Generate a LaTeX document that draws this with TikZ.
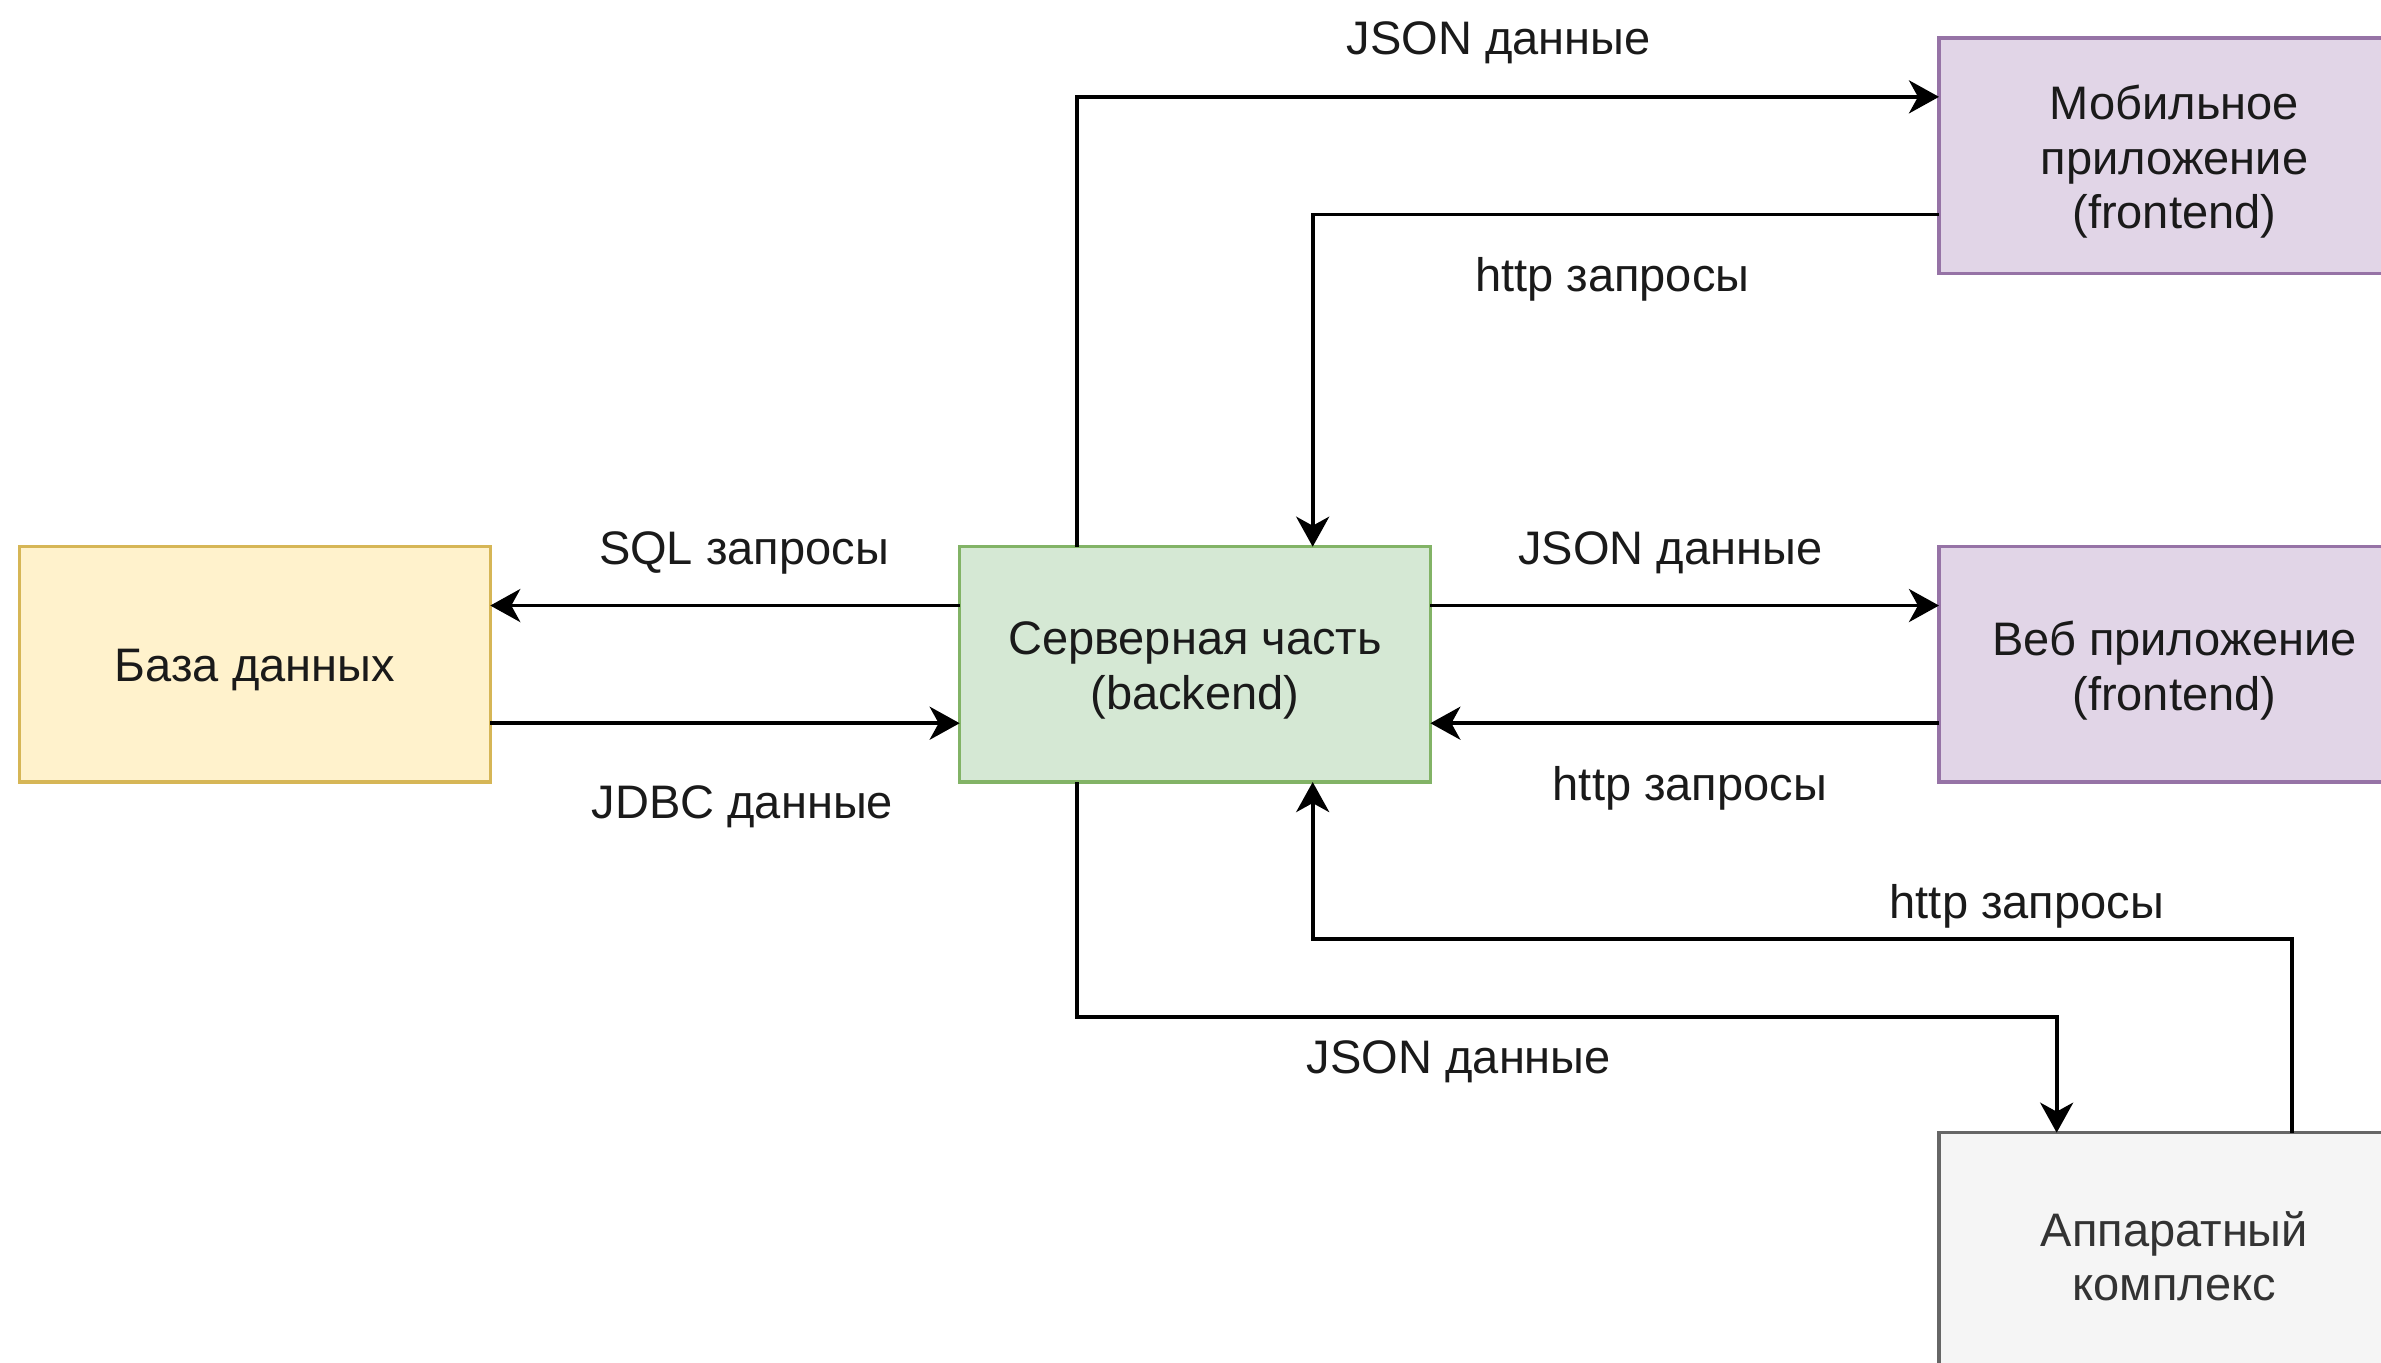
\documentclass[tikz,border=0pt]{standalone}
\usepackage{fontspec}
\setmainfont{Liberation Sans}
\usetikzlibrary{calc,arrows.meta}
\definecolor{dbfill}{HTML}{FFF2CC}\definecolor{dbline}{HTML}{D6B656}
\definecolor{srvfill}{HTML}{D5E8D4}\definecolor{srvline}{HTML}{82B366}
\definecolor{appfill}{HTML}{E1D5E7}\definecolor{appline}{HTML}{9673A6}
\definecolor{hwfill}{HTML}{F5F5F5}\definecolor{hwline}{HTML}{666666}
\definecolor{hwtext}{HTML}{333333}
\definecolor{lbltext}{HTML}{1A1A1A}
\begin{document}
\begin{tikzpicture}[x=0.03922cm,y=-0.03922cm,
  font=\fontsize{13.38pt}{15.5pt}\selectfont,
  box/.style={rectangle,minimum width=4.7064cm,minimum height=2.3532cm,inner sep=0pt,outer sep=0pt,line width=0.9pt},
  boxtext/.style={inner sep=0pt,align=center,text=lbltext,yshift=-0.06cm},
  conn/.style={line width=1.1pt,-{Stealth[length=0.3cm,width=0.33cm,inset=0.09cm]}},
  lbl/.style={inner sep=0pt,text=lbltext}]
\fill[white] (0,0) rectangle (607.1,347.3);
\useasboundingbox (0,0) rectangle (607.1,347.3);
\node[box,draw=dbline,fill=dbfill] (db) at (65,169.4) {};
\node[box,draw=srvline,fill=srvfill] (srv) at (304.7,169.4) {};
\node[box,draw=appline,fill=appfill] (mob) at (554.4,39.7) {};
\node[box,draw=appline,fill=appfill] (web) at (554.4,169.4) {};
\node[box,draw=hwline,fill=hwfill] (hw) at (554.4,318.8) {};
\node[boxtext] (dbt) at (db.center) {База данных};
\node[boxtext] (srvt) at (srv.center) {Серверная часть\\(backend)};
\node[boxtext] (mobt) at (mob.center) {Мобильное\\приложение\\(frontend)};
\node[boxtext] (webt) at (web.center) {Веб приложение\\(frontend)};
\node[boxtext,text=hwtext] (hwt) at (hw.center) {Аппаратный\\комплекс};
% connectors
\draw[conn] ($(srv.north west)!0.25!(srv.south west)$) -- ($(db.north east)!0.25!(db.south east)$);
\draw[conn] ($(db.north east)!0.75!(db.south east)$) -- ($(srv.north west)!0.75!(srv.south west)$);
\draw[conn] ($(srv.north east)!0.25!(srv.south east)$) -- ($(web.north west)!0.25!(web.south west)$);
\draw[conn] ($(web.north west)!0.75!(web.south west)$) -- ($(srv.north east)!0.75!(srv.south east)$);
\draw[conn] ($(srv.north west)!0.25!(srv.north east)$) |- ($(mob.north west)!0.25!(mob.south west)$);
\draw[conn] ($(mob.north west)!0.75!(mob.south west)$) -| ($(srv.north west)!0.75!(srv.north east)$);
\draw[conn] ($(hw.north west)!0.75!(hw.north east)$) |- ($(srv.south west)!0.75!(srv.south east)+(0,40)$) -- ($(srv.south west)!0.75!(srv.south east)$);
\draw[conn] ($(srv.south west)!0.25!(srv.south east)$) -- ++(0,60) -| ($(hw.north west)!0.25!(hw.north east)$);
% labels
\node[lbl] (l1) at (382.1,10.9) {JSON данные};
\node[lbl] (l2) at (411.1,71.3) {http запросы};
\node[lbl] (l3) at (189.7,141.0) {SQL запросы};
\node[lbl] (l4) at (189.3,205.6) {JDBC данные};
\node[lbl] (l5) at (425.9,141.0) {JSON данные};
\node[lbl] (l6) at (430.9,201.0) {http запросы};
\node[lbl] (l7) at (516.8,231.2) {http запросы};
\node[lbl] (l8) at (372,270.7) {JSON данные};
\end{tikzpicture}
\end{document}
